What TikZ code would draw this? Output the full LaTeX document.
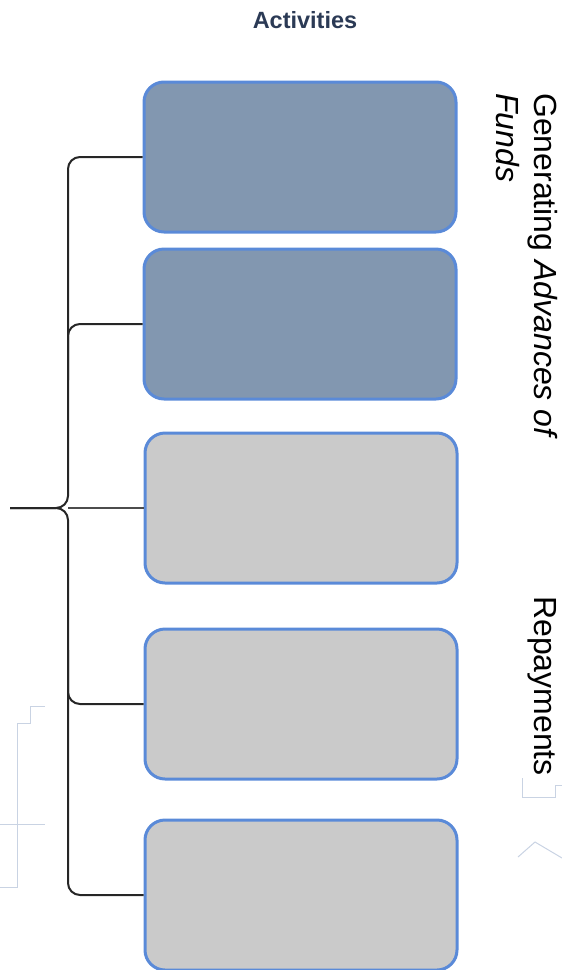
\documentclass[tikz,border=0pt]{standalone}
\usepackage{fontspec}
\setmainfont{Liberation Sans}
\usetikzlibrary{positioning,calc}

\definecolor{boxblue}{HTML}{5A8AD8}
\definecolor{darkfill}{HTML}{8297B0}
\definecolor{lightfill}{HTML}{CACACA}
\definecolor{titlecol}{HTML}{2B3A55}
\definecolor{faint}{HTML}{C9D3E3}

\tikzset{
  actbox/.style = {draw=boxblue, line width=3pt, rounded corners=20pt,
    minimum width=312pt, minimum height=150pt, inner sep=0pt},
  darkbox/.style = {actbox, fill=darkfill},
  lightbox/.style = {actbox, fill=lightfill},
  conn/.style = {line width=2pt, black!85, rounded corners=12pt},
  sidelabel/.style = {rotate=-90, inner sep=0pt, align=left,
    font=\fontsize{32}{38}\selectfont},
}

\begin{document}
\begin{tikzpicture}[x=1pt, y=-1pt]
			\useasboundingbox (0,0) rectangle (562,970);
			
			% faint background marks
			\draw[faint, line width=1pt] (45,706) -- (30,706) -- (30,723) -- (17,723) -- (17,887) -- (0,887);
			\draw[faint, line width=1pt] (0,824) -- (45,824);
			\draw[faint, line width=1pt] (522,778) -- (522,797) -- (555,797) -- (555,785) -- (562,785);
			\draw[faint, line width=1pt] (518,857) -- (535,842) -- (562,858);
			
			\node[font=\bfseries\fontsize{23.5}{28}\selectfont, text=titlecol] (title) at (305,20) {Activities};
			
			\node[darkbox] (b1) at (300,157) {};
			\node[darkbox] (b2) at (300,324) {};
			\node[lightbox] (b3) at (301,508) {};
			\node[lightbox] (b4) at (301,704) {};
			\node[lightbox] (b5) at (301,895) {};
			
			\coordinate (tr) at (68,508);
			\coordinate (stub) at (10,508);
			
			\draw[conn] (b1.west) -| (tr) -- (stub);
			\draw[conn] (b5.west) -| (tr) -- (stub);
			\draw[conn] (b2.west) -| (68,380);
			\draw[conn] (b4.west) -| (68,650);
			\draw[conn, black!70] (tr) -- (b3.west);
			
			\node[sidelabel, anchor=north west] (gen) at (558,93) {Generating \textit{Advances of}\\\textit{Funds}};
			\node[sidelabel, anchor=north west] (rep) at (557,596) {Repayments};
		
		\end{tikzpicture}
\end{document}
